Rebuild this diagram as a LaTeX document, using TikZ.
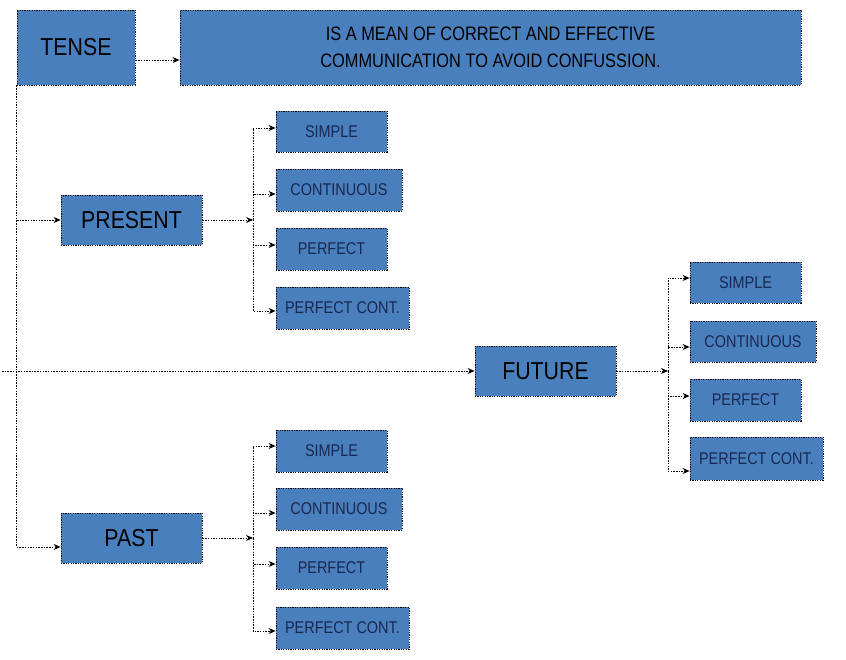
\documentclass[tikz,border=0pt]{standalone}
\usepackage{fontspec}
\setmainfont{Liberation Sans}
\newfontfamily\bigfont[FakeStretch=0.87]{Liberation Sans}
\newfontfamily\smallfont[FakeStretch=0.85]{Liberation Sans}
\newfontfamily\deffont[FakeStretch=0.84]{Liberation Sans}
\usetikzlibrary{arrows.meta}
\definecolor{boxblue}{RGB}{74,127,190}
\definecolor{navytext}{RGB}{25,40,80}
\begin{document}
\begin{tikzpicture}[x=1pt,y=-1pt,
  box/.style={draw=black, fill=boxblue, line width=0.8pt, dash pattern=on 1.2pt off 1.2pt, inner sep=0pt, align=center},
  big/.style={box, font=\bigfont\fontsize{24.5}{26}\selectfont, text=black},
  small/.style={box, font=\smallfont\fontsize{17}{19}\selectfont, text=navytext},
  conn/.style={draw=black, line width=0.9pt, dash pattern=on 1.5pt off 1.2pt, -{Stealth[length=7pt,width=6pt]}}]
\useasboundingbox (0,0) rectangle (846,660);
% main nodes
\node[big, minimum width=118, minimum height=75] (tense) at (76,47.5) {TENSE};
\node[box, minimum width=621, minimum height=75, font=\deffont\fontsize{19.5}{27}\selectfont, text=black] (def) at (490.5,47.5) {IS A MEAN OF CORRECT AND EFFECTIVE\\COMMUNICATION TO AVOID CONFUSSION.};
\node[big, minimum width=141, minimum height=50] (present) at (131.5,220) {PRESENT};
\node[big, minimum width=141, minimum height=50] (past) at (131.5,538) {PAST};
\node[big, minimum width=141, minimum height=50] (future) at (545.5,371) {FUTURE};
% present subs
\node[small, minimum width=111, minimum height=41] (ps1) at (331.5,131.5) {SIMPLE};
\node[small, minimum width=126, minimum height=42] (ps2) at (339,190) {CONTINUOUS};
\node[small, minimum width=111, minimum height=42] (ps3) at (331.5,249) {PERFECT};
\node[small, minimum width=133, minimum height=42] (ps4) at (342.5,308) {PERFECT CONT.};
% past subs
\node[small, minimum width=111, minimum height=42] (pa1) at (331.5,451) {SIMPLE};
\node[small, minimum width=126, minimum height=42] (pa2) at (339,509) {CONTINUOUS};
\node[small, minimum width=111, minimum height=42] (pa3) at (331.5,568) {PERFECT};
\node[small, minimum width=133, minimum height=42] (pa4) at (342.5,628) {PERFECT CONT.};
% future subs
\node[small, minimum width=111, minimum height=41] (fu1) at (745.5,282.5) {SIMPLE};
\node[small, minimum width=126, minimum height=41] (fu2) at (753,341.5) {CONTINUOUS};
\node[small, minimum width=111, minimum height=42] (fu3) at (745.5,400) {PERFECT};
\node[small, minimum width=133, minimum height=43] (fu4) at (756.5,458.5) {PERFECT CONT.};
% junctions
\coordinate (lstart) at (2,371);
\coordinate (pj) at (253,220);
\coordinate (paj) at (253,538);
\coordinate (fj) at (668,371);
% connectors
\draw[conn] ([yshift=-12.5pt]tense.east) -- ([yshift=-12.5pt]def.west);
\draw[conn] (tense.south west) |- (present.west);
\draw[conn] (tense.south west) |- ([yshift=-9pt]past.west);
\draw[conn] (lstart) -- (future.west);
\draw[conn] (present.east) -- (pj);
\draw[conn] (past.east) -- (paj);
\draw[conn] (future.east) -- (fj);
\draw[conn] (pj) |- ([yshift=3.5pt]ps1.west);
\draw[conn] (pj) |- ([yshift=-4pt]ps2.west);
\draw[conn] (pj) |- ([yshift=4pt]ps3.west);
\draw[conn] (pj) |- ([yshift=-3pt]ps4.west);
\draw[conn] (paj) |- ([yshift=5pt]pa1.west);
\draw[conn] (paj) |- ([yshift=-4pt]pa2.west);
\draw[conn] (paj) |- ([yshift=4pt]pa3.west);
\draw[conn] (paj) |- ([yshift=-3pt]pa4.west);
\draw[conn] (fj) |- ([yshift=4.5pt]fu1.west);
\draw[conn] (fj) |- ([yshift=-5.5pt]fu2.west);
\draw[conn] (fj) |- ([yshift=4pt]fu3.west);
\draw[conn] (fj) |- ([yshift=-12.5pt]fu4.west);
\end{tikzpicture}
\end{document}
